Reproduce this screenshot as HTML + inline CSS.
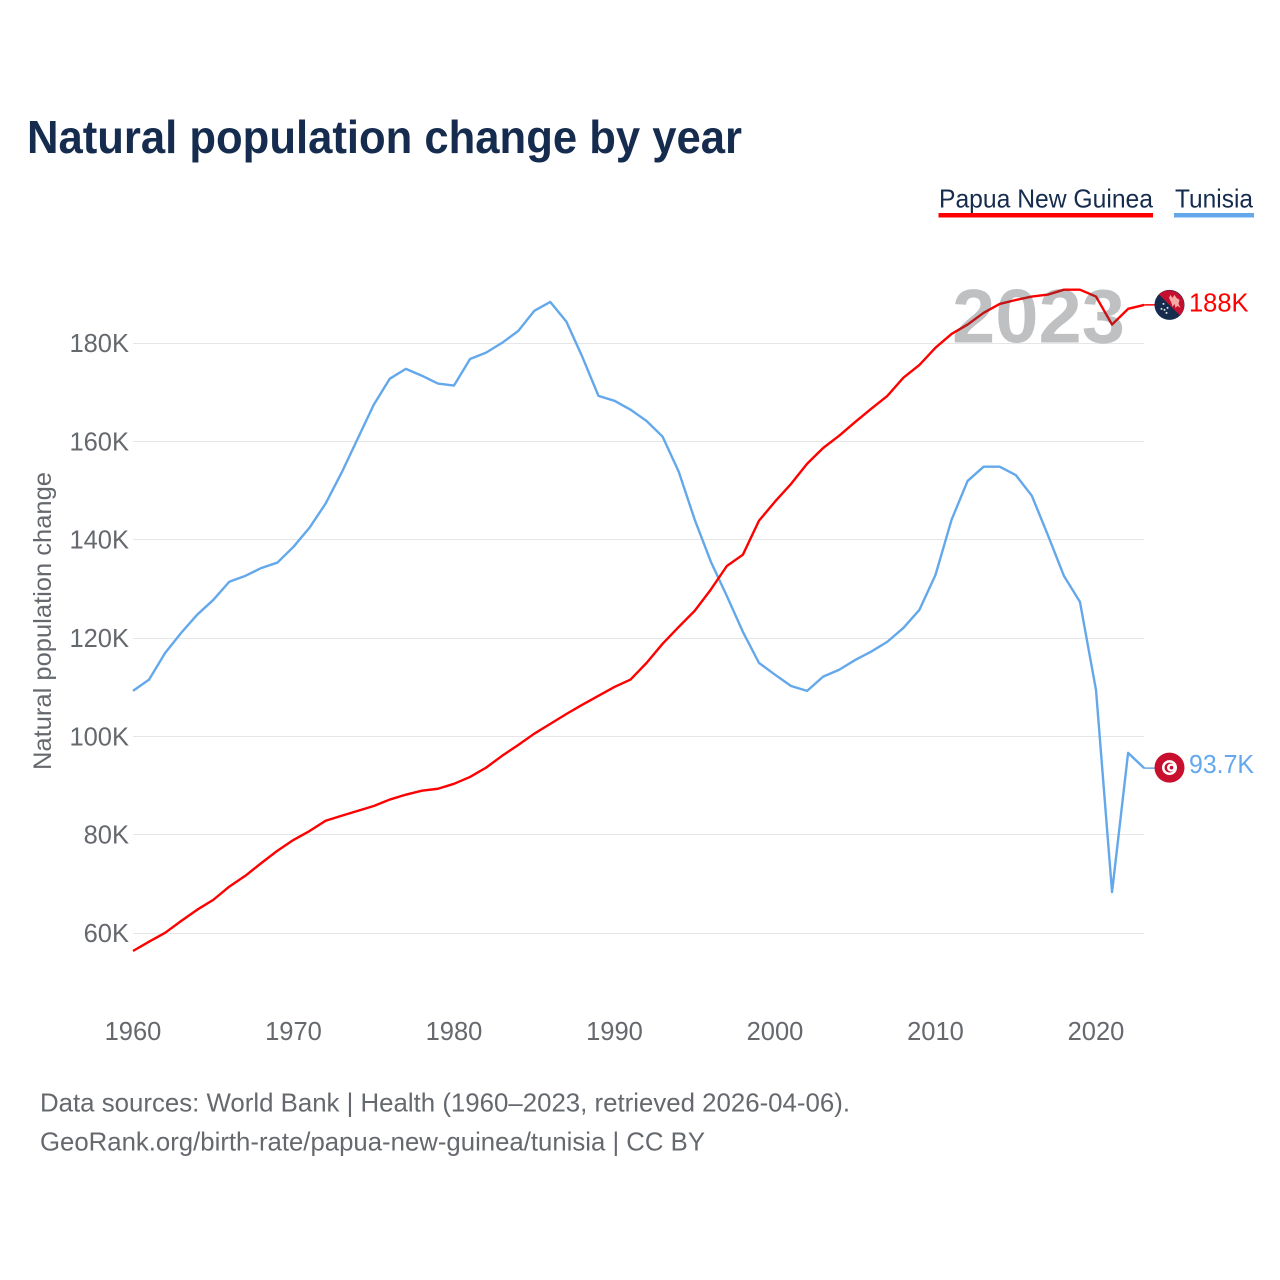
<!DOCTYPE html>
<html lang="en">
<head>
<meta charset="utf-8">
<title>Natural population change by year</title>
<style>
html,body{margin:0;padding:0;background:#fff;width:1280px;height:1280px;overflow:hidden}
svg{display:block;font-family:"Liberation Sans",sans-serif}
</style>
</head>
<body>
<svg id="chart" xmlns="http://www.w3.org/2000/svg" width="1280" height="1280" viewBox="0 0 1280 1280">
  <text x="27" y="153" font-size="46" font-weight="700" fill="#152c4e" textLength="715" lengthAdjust="spacingAndGlyphs">Natural population change by year</text>

  <g>
    <g>
      <text x="939" y="207.500" font-size="26" fill="#152c4e" textLength="214" lengthAdjust="spacingAndGlyphs">Papua New Guinea</text>
      <rect x="938.500" y="213" width="214.500" height="4.500" fill="#ff0000"/>
    </g>
    <g>
      <text x="1175" y="207.500" font-size="26" fill="#152c4e" textLength="78" lengthAdjust="spacingAndGlyphs">Tunisia</text>
      <rect x="1174" y="213" width="80" height="4.500" fill="#64a8ec"/>
    </g>
  </g>

  <text transform="translate(51 621) rotate(-90)" text-anchor="middle" font-size="25" fill="#65696e" textLength="298" lengthAdjust="spacingAndGlyphs">Natural population change</text>

  <g id="grid"></g>
  <g id="yticks"></g>
  <g id="xticks"></g>
  <g id="series"></g>

  <text x="952" y="342.500" font-size="76" font-weight="700" fill="#3c4146" fill-opacity="0.33" textLength="173" lengthAdjust="spacingAndGlyphs">2023</text>

  <g id="ends"></g>

  <text x="40" y="1111.500" font-size="26" fill="#65696e" textLength="810" lengthAdjust="spacingAndGlyphs">Data sources: World Bank | Health (1960–2023, retrieved 2026-04-06).</text>
  <text x="40" y="1150.500" font-size="26" fill="#65696e" textLength="665" lengthAdjust="spacingAndGlyphs">GeoRank.org/birth-rate/papua-new-guinea/tunisia | CC BY</text>
</svg>

<script>
const startYear = 1960;
const xTickYears = [1960, 1970, 1980, 1990, 2000, 2010, 2020];
const yTickValues = [60, 80, 100, 120, 140, 160, 180];
const papuaValues = [
  56.5, 58.4, 60.2, 62.6, 64.9, 66.9, 69.6, 71.8, 74.4, 76.9,
  79.1, 80.9, 83, 84, 85, 86, 87.3, 88.3, 89.1, 89.5,
  90.5, 91.9, 93.8, 96.2, 98.4, 100.7, 102.7, 104.7, 106.6, 108.4,
  110.2, 111.7, 115.1, 119, 122.4, 125.7, 130, 134.8, 137.1, 144,
  147.9, 151.5, 155.6, 158.8, 161.3, 164.1, 166.8, 169.4, 173.1, 175.7,
  179.2, 182, 183.9, 186.3, 188.1, 188.9, 189.6, 190, 191, 191,
  189.6, 183.9, 187.1, 187.9
];
const tunisiaValues = [
  109.4, 111.7, 117.1, 121.2, 124.9, 127.9, 131.6, 132.8, 134.4, 135.5,
  138.7, 142.6, 147.5, 153.8, 160.7, 167.6, 172.9, 174.9, 173.5, 171.9,
  171.5, 176.9, 178.2, 180.2, 182.6, 186.7, 188.5, 184.5, 177.3, 169.4,
  168.4, 166.6, 164.3, 161.1, 154, 144.2, 135.7, 128.7, 121.4, 115.1,
  112.7, 110.4, 109.4, 112.3, 113.7, 115.7, 117.4, 119.4, 122.2, 125.9,
  133, 144.2, 152.1, 155, 155, 153.3, 149.1, 141.1, 132.8, 127.5,
  109.6, 68.5, 96.8, 93.7
];

const SVG_NS = 'http://www.w3.org/2000/svg';
function xScale(year) { return 133 + (year - 1960) * 16.05; }
function yScale(v) { return 933.8 - (v - 60) * 4.917; }
function make(tag, attrs, parent) {
  const el = document.createElementNS(SVG_NS, tag);
  for (const k in attrs) el.setAttribute(k, attrs[k]);
  parent.appendChild(el);
  return el;
}
function formatValue(v) { return (v >= 100 ? Math.round(v) : v.toFixed(1)) + 'K'; }

const grid = document.getElementById('grid');
const yticks = document.getElementById('yticks');
yTickValues.forEach(function (v) {
  const y = Math.round(yScale(v)) - 0.5;
  const line = make('line', { x1: 133, x2: 1144, y1: y, y2: y, stroke: '#e6e6e6', 'stroke-width': 1 }, grid);
  
  
  const t = make('text', { x: 129, y: yScale(v) + 8.200, 'text-anchor': 'end', 'font-size': 25.500, fill: '#65696e' }, yticks);
  
  
  t.textContent = v + 'K';
});

const xticks = document.getElementById('xticks');
xTickYears.forEach(function (year) {
  const t = make('text', { x: xScale(year), y: 1040, 'text-anchor': 'middle', 'font-size': 25.500, fill: '#65696e' }, xticks);
  
  
  t.textContent = year;
});

function linePoints(values) {
  return values.map(function (v, i) {
    return xScale(startYear + i).toFixed(2) + ',' + yScale(v).toFixed(2);
  }).join(' ');
}
const series = document.getElementById('series');
const tunisiaLine = make('polyline', { points: linePoints(tunisiaValues), fill: 'none', stroke: '#64a8ec', 'stroke-width': 2.4, 'stroke-linejoin': 'round' }, series);


const papuaLine = make('polyline', { points: linePoints(papuaValues), fill: 'none', stroke: '#ff0000', 'stroke-width': 2.4, 'stroke-linejoin': 'round' }, series);



const ends = document.getElementById('ends');
const lastYear = startYear + papuaValues.length - 1;
const flagX = 1169.5;

/* Papua New Guinea end marker */
const pv = papuaValues[papuaValues.length - 1];
const py = yScale(pv);
const pLead = make('line', { x1: xScale(lastYear), x2: flagX, y1: py, y2: py, stroke: '#ff0000', 'stroke-width': 1.5 }, ends);


const pFlag = make('g', { transform: 'translate(' + flagX + ' ' + py + ')' }, ends);


make('circle', { r: 15, fill: '#152c4e' }, pFlag);
make('path', { d: 'M-10.6,-10.6 A15,15 0 0 1 10.6,10.6 Z', fill: '#c4102e' }, pFlag);
make('path', { d: 'M-0.500,-7 L1,-10 L3,-7 L5,-10 L7,-7 L10,-5 L9,-1 L11,3 L8,1 L6,3 L5,-1 L3,2 L2,-2 Z', fill: '#f4a9a6' }, pFlag);
[[-6, -1], [-2, 3], [-8, 4], [-3, 8], [-5, 5]].forEach(function (s) {
  make('circle', { cx: s[0], cy: s[1], r: 1, fill: '#dfe3ea' }, pFlag);
});
const pLabel = make('text', { x: 1189, y: py + 6.500, 'font-size': 25.500, fill: '#ff0000' }, ends);


pLabel.textContent = formatValue(pv);

/* Tunisia end marker */
const tv = tunisiaValues[tunisiaValues.length - 1];
const ty = yScale(tv);
const tLead = make('line', { x1: xScale(lastYear), x2: flagX, y1: ty, y2: ty, stroke: '#64a8ec', 'stroke-width': 1.5 }, ends);


const tFlag = make('g', { transform: 'translate(' + flagX + ' ' + (ty - 0.5) + ')' }, ends);


make('circle', { r: 15, fill: '#c8102e' }, tFlag);
make('circle', { r: 7.5, fill: '#ffffff' }, tFlag);
make('circle', { r: 5, fill: '#c8102e' }, tFlag);
make('circle', { cx: 1.5, r: 4, fill: '#ffffff' }, tFlag);
make('circle', { cx: 2, r: 1.8, fill: '#c8102e' }, tFlag);
const tLabel = make('text', { x: 1189, y: ty + 5, 'font-size': 25.500, fill: '#64a8ec', textLength: 65, lengthAdjust: 'spacingAndGlyphs' }, ends);


tLabel.textContent = formatValue(tv);
</script>
</body>
</html>
